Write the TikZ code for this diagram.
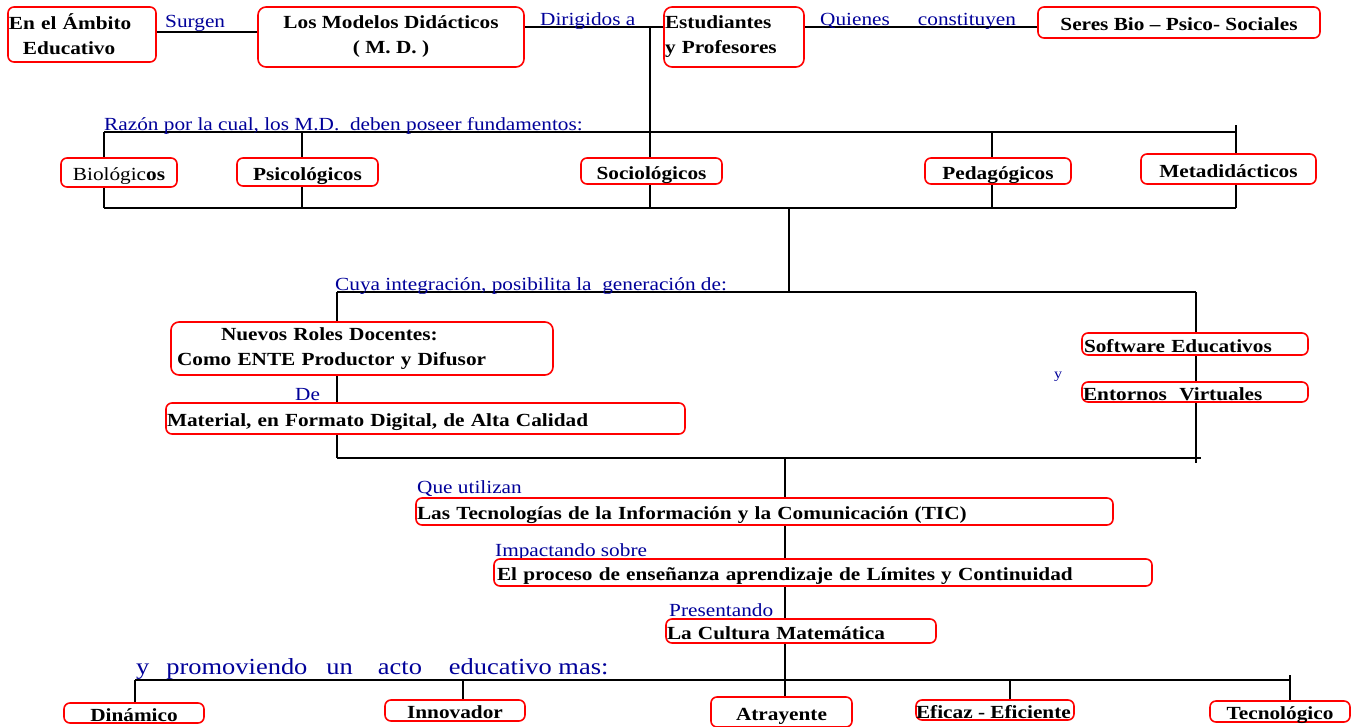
\documentclass[tikz,border=0pt]{standalone}
\usepackage{fontspec}
\setmainfont[FakeStretch=1.15]{Liberation Serif}
\usetikzlibrary{backgrounds}
\definecolor{azul}{RGB}{0,0,153}
\tikzset{
  caja/.style={draw=red, line width=1.6pt, rounded corners=6pt, fill=white,
    inner xsep=1pt, inner ysep=0pt, font=\fontsize{18.5}{25}\selectfont\bfseries},
  caja1/.style={caja, text height=16pt, text depth=0pt},
  enlace/.style={text=azul, inner sep=0pt, anchor=base west,
    font=\fontsize{18.5}{22}\selectfont},
  linea/.style={line width=1.5pt},
}
\begin{document}
\begin{tikzpicture}[x=1pt,y=-1pt]
\useasboundingbox (0,0) rectangle (1360,726);
\node[enlace] (Surgen) at (165,27) {Surgen};
\node[enlace] (Dirig) at (540,25) {Dirigidos a};
\node[enlace] (Quienes) at (820,25) {Quienes\hspace{28pt}constituyen};
\node[enlace] (Razon) at (104,130) {Razón por la cual, los M.D.\ \ deben poseer fundamentos:};
\node[enlace] (Cuya) at (335,290) {Cuya integración, posibilita la\ \ generación de:};
\node[enlace] (De) at (295,400) {De};
\node[enlace, font=\fontsize{14}{16}\selectfont] (Y) at (1054,378) {y};
\node[enlace] (Que) at (417,493) {Que utilizan};
\node[enlace] (Imp) at (495,556) {Impactando sobre};
\node[enlace] (Pres) at (669,616) {Presentando};
\node[enlace, font=\fontsize{23}{28}\selectfont] (Prom) at (136,674)
  {y\hspace{17pt}promoviendo\hspace{19pt}un\hspace{25pt}acto\hspace{27pt}educativo mas:};

\node[caja, text width=146pt, align=left, minimum height=55pt] (Amb) at (82,34.5)
  {En el Ámbito\\\hspace*{14pt}Educativo};
\node[caja, minimum width=266pt, minimum height=60pt, align=center, rounded corners=8pt] (MD) at (391,37)
  {Los Modelos Didácticos\\( M. D. )};
\node[caja, text width=138pt, align=left, minimum height=60pt, rounded corners=8pt] (Est) at (734,37)
  {Estudiantes\\y Profesores};
\node[caja1, minimum width=282pt, minimum height=31pt] (Seres) at (1179,22.5) {Seres Bio – Psico- Sociales};

\node[caja1, minimum width=116pt, minimum height=29pt] (Bio) at (119,172.5) {\mdseries Biológic\bfseries os};
\node[caja1, minimum width=141pt, minimum height=28pt] (Psi) at (307.5,172) {Psicológicos};
\node[caja1, minimum width=141pt, minimum height=26pt] (Soc) at (651.5,171) {Sociológicos};
\node[caja1, minimum width=146pt, minimum height=26pt] (Ped) at (998,171) {Pedagógicos};
\node[caja1, minimum width=175pt, minimum height=30pt] (Met) at (1228.5,169) {Metadidácticos};

\node[caja, text width=370pt, align=left, inner xsep=6pt, minimum height=53pt, rounded corners=8pt] (Roles) at (362,348.5)
  {\hspace*{44pt}Nuevos Roles Docentes:\\Como ENTE Productor y Difusor};
\node[caja1, text width=517pt, align=left, minimum height=31pt] (Mat) at (425.5,418.5)
  {Material, en Formato Digital, de Alta Calidad};
\node[caja1, text width=222pt, align=left, inner xsep=2pt, minimum height=22pt] (Soft) at (1195,344) {Software Educativos};
\node[caja1, text width=224pt, align=left, minimum height=20pt] (Ent) at (1195,392) {Entornos\ \ Virtuales};

\node[caja1, text width=695pt, align=left, minimum height=27pt] (TIC) at (764.5,511.5)
  {Las Tecnologías de la Información y la Comunicación (TIC)};
\node[caja1, text width=652pt, align=left, inner xsep=3pt, minimum height=27pt] (Proc) at (823,572.5)
  {El proceso de enseñanza aprendizaje de Límites y Continuidad};
\node[caja1, text width=268pt, align=left, minimum height=24pt] (Cult) at (801,631) {La Cultura Matemática};

\node[caja1, minimum width=140pt, minimum height=20pt] (Din) at (134,713) {Dinámico};
\node[caja1, minimum width=140pt, minimum height=21pt] (Inn) at (455,710.5) {Innovador};
\node[caja1, minimum width=141pt, minimum height=30pt] (Atr) at (781.5,712) {Atrayente};
\node[caja1, minimum width=158pt, minimum height=20pt, inner xsep=0pt] (Efi) at (995,710)
  {\makebox[158pt][l]{Eficaz - Eficiente}};
\node[caja1, minimum width=140pt, minimum height=21pt] (Tec) at (1280,711.5) {Tecnológico};

\begin{pgfonlayer}{background}
\coordinate (jA) at (156,32);
\coordinate (jC) at (650,27);
\draw[linea] (jA) -- (jA -| MD.west);
\draw[linea] (MD.east |- jC) -- (Est.west |- jC);
\draw[linea] (Est.east |- jC) -- (Seres.west |- jC);
\draw[linea] (jC) -- (jC |- Soc.north);

\coordinate (b1L) at (104,132);
\coordinate (b1R) at (1236,132);
\coordinate (b2L) at (104,208);
\coordinate (b2R) at (1236,208);
\draw[linea] (b1L) -- (b1R);
\draw[linea] (b2L) -- (b2R);
\draw[linea] (b1R) -- ++(0,-7);
\foreach \n/\x in {Bio/104,Psi/302,Soc/650,Ped/992,Met/1236}{
  \coordinate (s\n) at (\x,132);
  \coordinate (i\n) at (\x,208);
  \draw[linea] (s\n) -- (s\n |- \n.north);
  \draw[linea] (\n.south -| i\n) -- (i\n);
}

\coordinate (j2) at (789,208);
\coordinate (j3) at (789,292);
\draw[linea] (j2) -- (j3);
\coordinate (b3L) at (337,292);
\coordinate (b3R) at (1196,292);
\coordinate (b4L) at (337,458);
\coordinate (b4R) at (1201,458);
\coordinate (b4V) at (1196,463);
\draw[linea] (b3L) -- (b3R);
\draw[linea] (b3L) -- (b3L |- Roles.north);
\draw[linea] (Roles.south -| b3L) -- (b3L |- Mat.north);
\draw[linea] (Mat.south -| b3L) -- (b4L);
\draw[linea] (b3R) -- (b3R |- Soft.north);
\draw[linea] (Soft.south -| b3R) -- (b3R |- Ent.north);
\draw[linea] (Ent.south -| b4V) -- (b4V);
\draw[linea] (b4L) -- (b4R);

\coordinate (j4) at (785,458);
\draw[linea] (j4) -- (j4 |- TIC.north);
\draw[linea] (TIC.south -| j4) -- (j4 |- Proc.north);
\draw[linea] (Proc.south -| j4) -- (j4 |- Cult.north);
\draw[linea] (Cult.south -| j4) -- (j4 |- Atr.north);

\coordinate (b5L) at (135,680);
\coordinate (b5R) at (1290,680);
\draw[linea] (b5L) -- (b5R);
\draw[linea] (b5R) -- ++(0,-5);
\foreach \n/\x in {Din/135,Inn/463,Efi/1010,Tec/1290}{
  \coordinate (d\n) at (\x,680);
  \draw[linea] (d\n) -- (d\n |- \n.north);
}
\end{pgfonlayer}
\end{tikzpicture}
\end{document}
